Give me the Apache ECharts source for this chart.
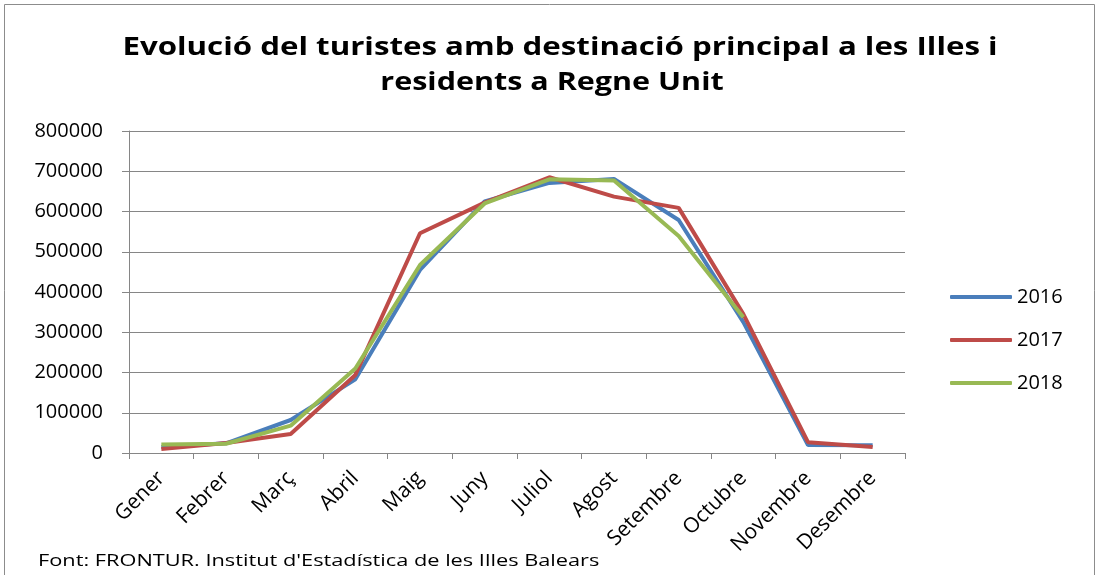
<!DOCTYPE html>
<html><head><meta charset="utf-8">
<script src="https://cdn.jsdelivr.net/npm/echarts@6/dist/echarts.min.js"></script>
<style>html,body{margin:0;padding:0;background:#fff}#c{width:1099px;height:575px}</style>
</head><body><div id="c"></div>
<script>
const categories = ['Gener','Febrer','Març','Abril','Maig','Juny','Juliol','Agost','Setembre','Octubre','Novembre','Desembre'];
const s2016 = [15000, 24000, 82000, 183000, 455000, 625000, 671000, 681000, 579000, 325000, 20000, 19000];
const s2017 = [10000, 25000, 47000, 194000, 546000, 622000, 685000, 637000, 609000, 345000, 27000, 15000];
const s2018 = [21000, 23000, 68000, 210000, 467000, 620000, 680000, 677000, 539000, 337000, null, null];
const titleLines = ['Evolució del turistes amb destinació principal a les Illes i', 'residents a Regne Unit'];
const sourceText = "Font: FRONTUR. Institut d'Estadística de les Illes Balears";

const chart = echarts.init(document.getElementById('c'));
const font = '"Open Sans", sans-serif';
const mk = (name, data, color) => ({
  name, type: 'line', data, symbol: 'none', connectNulls: false,
  lineStyle: { width: 4, color }, itemStyle: { color }
});
chart.setOption({
  animation: false,
  textStyle: { fontFamily: font },
  graphic: [
    { type: 'rect', shape: { x: 4.5, y: 4.5, width: 1090, height: 580 },
      style: { fill: 'none', stroke: '#8c8c8c', lineWidth: 1 } },
    { type: 'text', x: 560, y: 48, scaleX: 1.25,
      style: { text: titleLines[0], font: 'bold 25px "Open Sans"', fill: '#000', textAlign: 'center', textVerticalAlign: 'middle' } },
    { type: 'text', x: 552, y: 83, scaleX: 1.22,
      style: { text: titleLines[1], font: 'bold 25px "Open Sans"', fill: '#000', textAlign: 'center', textVerticalAlign: 'middle' } },
    { type: 'text', x: 38, y: 561, scaleX: 1.28,
      style: { text: sourceText, font: '17px "Open Sans"', fill: '#000', textAlign: 'left', textVerticalAlign: 'middle' } }
  ],
  legend: {
    orient: 'vertical', left: 945, top: 282, itemGap: 23,
    itemWidth: 62, itemHeight: 4, icon: 'roundRect',
    textStyle: { fontFamily: font, fontSize: 20, color: '#000' },
    data: ['2016', '2017', '2018']
  },
  grid: { left: 129, right: 194, top: 131, bottom: 122, containLabel: false },
  xAxis: {
    type: 'category', data: categories, boundaryGap: true,
    axisLine: { lineStyle: { color: '#868686', width: 1 } },
    axisTick: { show: true, length: 6, lineStyle: { color: '#868686' } },
    axisLabel: { rotate: 45, fontFamily: font, fontSize: 21, color: '#000', margin: 22, interval: 0 }
  },
  yAxis: {
    type: 'value', min: 0, max: 800000, interval: 100000,
    axisLine: { show: true, lineStyle: { color: '#868686', width: 1 } },
    axisTick: { show: true, length: 7, lineStyle: { color: '#868686' } },
    axisLabel: { fontFamily: font, fontSize: 20, color: '#000', margin: 26, formatter: v => String(v) },
    splitLine: { lineStyle: { color: '#868686', width: 1 } }
  },
  series: [mk('2016', s2016, '#4a7ebb'), mk('2017', s2017, '#be4b48'), mk('2018', s2018, '#98b954')]
});
</script></body></html>
